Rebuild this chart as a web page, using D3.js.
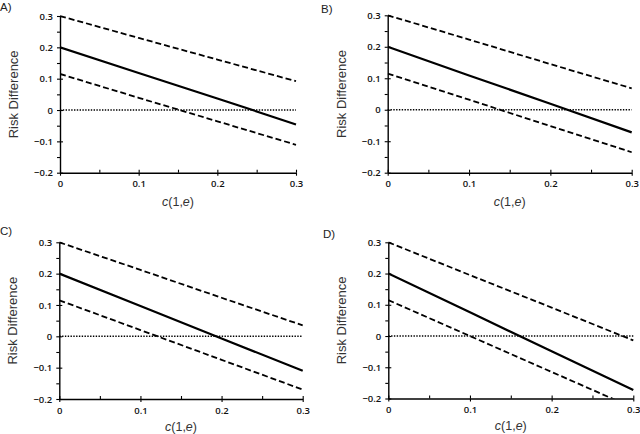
<!DOCTYPE html>
<html>
<head>
<meta charset="utf-8">
<script src="https://cdn.jsdelivr.net/npm/d3@7"></script>
<style>
  html, body { margin: 0; padding: 0; background: #fff; }
  svg { display: block; }
</style>
</head>
<body>
<div id="chart"></div>
<script>
const xValues = [0, 0.1, 0.2, 0.3];
const yTicks = [-0.2, -0.1, 0, 0.1, 0.2, 0.3];
const xTicks = [0, 0.1, 0.2, 0.3];
const panelLabels = ["A)", "B)", "C)", "D)"];

// risk difference estimate (solid) and bounds (dashed), per panel
const estimateA = [0.2, 0.118, 0.037, -0.046];
const upperA = [0.3, 0.23, 0.161, 0.092];
const lowerA = [0.115, 0.039, -0.036, -0.111];

const estimateB = [0.2, 0.109, 0.019, -0.072];
const upperB = [0.3, 0.223, 0.145, 0.068];
const lowerB = [0.115, 0.032, -0.052, -0.135];

const estimateC = [0.2, 0.097, -0.007, -0.11];
const upperC = [0.3, 0.212, 0.123, 0.035];
const lowerC = [0.115, 0.02, -0.075, -0.17];

const estimateD = [0.2, 0.076, -0.049, -0.173];
const upperD = [0.3, 0.195, 0.091, -0.014];
const lowerD = [0.115, 0, -0.115, -0.23];

const W = 640, H = 434;

// plot box of each panel (left, right, top, bottom) and text offsets
const layout = [
  { l: 60, r: 296, t: 16, b: 172.7, lx: 0, ly: 11, titleY: 206 },
  { l: 387.7, r: 631.7, t: 15.3, b: 172.7, lx: 321, ly: 13, titleY: 206 },
  { l: 59.3, r: 302.7, t: 242.3, b: 399, lx: 0, ly: 235, titleY: 431 },
  { l: 388.3, r: 633.3, t: 242.3, b: 398.5, lx: 323, ly: 238, titleY: 430 },
];

const panels = [
  { est: estimateA, up: upperA, lo: lowerA },
  { est: estimateB, up: upperB, lo: lowerB },
  { est: estimateC, up: upperC, lo: lowerC },
  { est: estimateD, up: upperD, lo: lowerD },
];

const svg = d3.select("#chart")
  .append("svg")
  .attr("width", W)
  .attr("height", H)
  .style("font-family", "'Liberation Sans', Arial, sans-serif");

const fmt = (d) => (d === 0 ? "0" : d3.format(".1f")(d));
const tickFont = "'Open Sans', 'Liberation Sans', sans-serif";

panels.forEach((p, i) => {
  const box = layout[i];
  const x = d3.scaleLinear().domain([0, 0.3]).range([box.l, box.r]);
  const y = d3.scaleLinear().domain([-0.2, 0.3]).range([box.b, box.t]);
  const g = svg.append("g");

  // clip to plot area
  const clipId = `clip-${i}`;
  g.append("clipPath")
    .attr("id", clipId)
    .append("rect")
    .attr("x", box.l)
    .attr("y", box.t - 2)
    .attr("width", box.r - box.l + 2)
    .attr("height", box.b - box.t + 2);

  // panel letter
  g.append("text")
    .attr("x", box.lx)
    .attr("y", box.ly)
    .style("font-size", "11.5px")
    .style("fill", "#222")
    .text(panelLabels[i]);

  // zero reference line
  g.append("line")
    .attr("x1", x(0))
    .attr("x2", x(0.3))
    .attr("y1", y(0))
    .attr("y2", y(0))
    .attr("stroke", "#000")
    .attr("stroke-width", 1.6)
    .attr("stroke-dasharray", "1.4,1.4");

  const line = d3.line()
    .x((d, j) => x(xValues[j]))
    .y((d) => y(d));

  const plot = g.append("g").attr("clip-path", `url(#${clipId})`);

  [p.up, p.lo].forEach((series) => {
    plot.append("path")
      .datum(series)
      .attr("d", line)
      .attr("fill", "none")
      .attr("stroke", "#000")
      .attr("stroke-width", 1.8)
      .attr("stroke-dasharray", "6,3");
  });

  plot.append("path")
    .datum(p.est)
    .attr("d", line)
    .attr("fill", "none")
    .attr("stroke", "#000")
    .attr("stroke-width", 2.2);

  // minor ticks
  const yMinor = d3.range(-0.15, 0.3, 0.1);
  const xMinor = d3.range(0.05, 0.3, 0.1);

  g.append("g")
    .attr("transform", `translate(${box.l},0)`)
    .call(d3.axisLeft(y).tickValues(yMinor).tickSize(3).tickFormat(""))
    .call((a) => a.select(".domain").remove());

  g.append("g")
    .attr("transform", `translate(0,${box.b})`)
    .call(d3.axisBottom(x).tickValues(xMinor).tickSize(-3).tickFormat(""))
    .call((a) => a.select(".domain").remove());

  // major ticks crossing the axis
  g.append("g")
    .attr("transform", `translate(${box.l},0)`)
    .call(d3.axisRight(y).tickValues(yTicks).tickSize(3).tickFormat(""))
    .call((a) => a.select(".domain").remove());

  g.append("g")
    .attr("transform", `translate(0,${box.b})`)
    .call(d3.axisTop(x).tickValues(xTicks).tickSize(3).tickFormat(""))
    .call((a) => a.select(".domain").remove());

  const yAxis = g.append("g")
    .attr("transform", `translate(${box.l},0)`)
    .call(d3.axisLeft(y).tickValues(yTicks).tickSize(3).tickSizeOuter(0).tickPadding(4).tickFormat(fmt));

  const xAxis = g.append("g")
    .attr("transform", `translate(0,${box.b})`)
    .call(d3.axisBottom(x).tickValues(xTicks).tickSize(3).tickSizeOuter(0).tickPadding(5).tickFormat(fmt));

  [yAxis, xAxis].forEach((a) => {
    a.select(".domain").attr("stroke-width", 1.4);
    a.selectAll("text")
      .style("font-family", tickFont)
      .style("font-weight", "600")
      .style("font-size", "9.5px")
      .style("fill", "#111");
  });
  g.selectAll(".tick line").attr("stroke-width", 1.1);

  // axis titles
  g.append("text")
    .attr("transform", `translate(${box.l - 42},${(box.t + box.b) / 2}) rotate(-90)`)
    .attr("text-anchor", "middle")
    .style("font-size", "13px")
    .style("fill", "#333")
    .text("Risk Difference");

  const title = g.append("text")
    .attr("x", (box.l + box.r) / 2)
    .attr("y", box.titleY)
    .attr("text-anchor", "middle")
    .style("font-size", "12.5px")
    .style("fill", "#333");
  title.append("tspan").style("font-style", "italic").text("c");
  title.append("tspan").text("(1,");
  title.append("tspan").style("font-style", "italic").text("e");
  title.append("tspan").text(")");
});
</script>
</body>
</html>
